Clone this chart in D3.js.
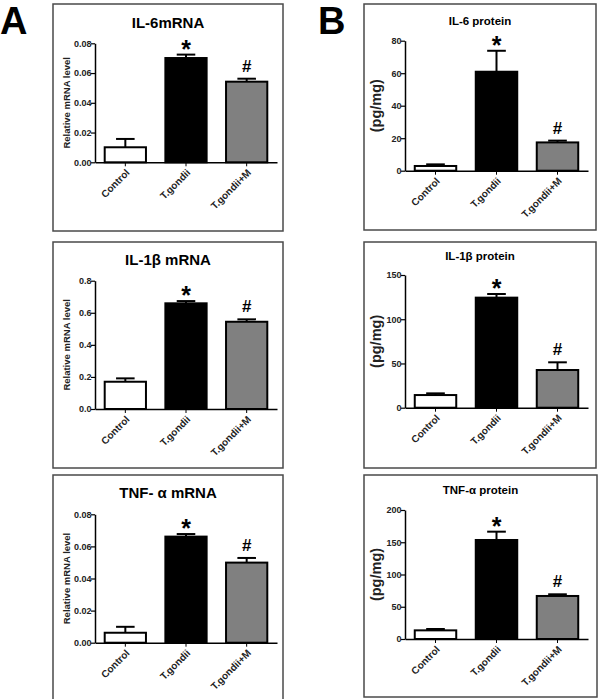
<!DOCTYPE html>
<html>
<head>
<meta charset="utf-8">
<script src="https://cdn.jsdelivr.net/npm/d3@7"></script>
<style>
  body { margin: 0; background: #fff; }
  svg { display: block; font-family: "Liberation Sans", Arial, Helvetica, sans-serif; }
</style>
</head>
<body>
<svg id="chart" width="600" height="699"></svg>
<script>
// data
const categories = ["Control", "T.gondii", "T.gondii+M"];
const markers = ["", "*", "#"];

const il6Mrna = [0.0101, 0.0701, 0.0542];
const il6MrnaErr = [0.0056, 0.0023, 0.0020];
const il1bMrna = [0.170, 0.659, 0.544];
const il1bMrnaErr = [0.021, 0.014, 0.015];
const tnfMrna = [0.0062, 0.0661, 0.0499];
const tnfMrnaErr = [0.0037, 0.0016, 0.0029];

const il6Protein = [2.9, 60.9, 17.4];
const il6ProteinErr = [1.0, 12.9, 1.1];
const il1bProtein = [14.3, 124.4, 42.6];
const il1bProteinErr = [1.9, 4.1, 8.7];
const tnfProtein = [13.4, 153.5, 66.7];
const tnfProteinErr = [2.1, 12.9, 2.6];

const mrnaTicks = [0, 0.02, 0.04, 0.06, 0.08];
const il1bMrnaTicks = [0, 0.2, 0.4, 0.6, 0.8];
const il6ProteinTicks = [0, 20, 40, 60, 80];
const il1bProteinTicks = [0, 50, 100, 150];
const tnfProteinTicks = [0, 50, 100, 150, 200];

const barColors = ["#ffffff", "#000000", "#808080"];

// panel layout
let panels = [
  {title: "IL-6mRNA", values: il6Mrna, errs: il6MrnaErr, ticks: mrnaTicks, fmt: ".2f",
   box: [53, 4, 230, 227], titleY: 28, titleSize: 15, ylab: "Relative mRNA level", ylabSize: 9.5, ylabX: 70,
   xr: [95, 277], yr: [162.3, 43.3]},
  {title: "IL-1\u03b2 mRNA", values: il1bMrna, errs: il1bMrnaErr, ticks: il1bMrnaTicks, fmt: ".1f",
   box: [53, 242, 230, 226], titleY: 265, titleSize: 15, ylab: "Relative mRNA level", ylabSize: 9.5, ylabX: 70,
   xr: [95, 277], yr: [409, 280.7]},
  {title: "TNF- \u03b1 mRNA", values: tnfMrna, errs: tnfMrnaErr, ticks: mrnaTicks, fmt: ".2f",
   box: [53, 475, 230, 240], titleY: 498, titleSize: 15, ylab: "Relative mRNA level", ylabSize: 9.5, ylabX: 70,
   xr: [95, 277], yr: [642.7, 514.3]},
  {title: "IL-6 protein", values: il6Protein, errs: il6ProteinErr, ticks: il6ProteinTicks, fmt: "d",
   box: [364, 4, 232, 226], titleY: 25, titleSize: 11.5, ylab: "(pg/mg)", ylabSize: 14.5, ylabX: 381,
   xr: [405, 588], yr: [170.7, 40.7]},
  {title: "IL-1\u03b2 protein", values: il1bProtein, errs: il1bProteinErr, ticks: il1bProteinTicks, fmt: "d",
   box: [364, 242, 232, 226], titleY: 260, titleSize: 11.5, ylab: "(pg/mg)", ylabSize: 14.5, ylabX: 381,
   xr: [405, 588], yr: [407.7, 275]},
  {title: "TNF-\u03b1 protein", values: tnfProtein, errs: tnfProteinErr, ticks: tnfProteinTicks, fmt: "d",
   box: [364, 475, 233, 222], titleY: 494, titleSize: 11.5, ylab: "(pg/mg)", ylabSize: 14.5, ylabX: 381,
   xr: [405, 588], yr: [639, 510]}
];

let svg = d3.select("#chart");

// panel letters
svg.append("text").attr("x", 0).attr("y", 34).attr("font-size", 38).attr("font-weight", "bold").text("A");
svg.append("text").attr("x", 318).attr("y", 34).attr("font-size", 38).attr("font-weight", "bold").text("B");

panels.forEach(function(p) {
  let g = svg.append("g");
  let data = categories.map(function(c, i) {
    return {name: c, value: p.values[i], err: p.errs[i], color: barColors[i], mark: markers[i]};
  });

  // frame
  g.append("rect")
    .attr("x", p.box[0]).attr("y", p.box[1])
    .attr("width", p.box[2]).attr("height", p.box[3])
    .attr("fill", "none").attr("stroke", "#4a4a4a").attr("stroke-width", 1.5);

  // title
  g.append("text")
    .attr("x", p.box[0] + p.box[2] / 2).attr("y", p.titleY)
    .attr("text-anchor", "middle")
    .attr("font-size", p.titleSize).attr("font-weight", "bold")
    .text(p.title);

  let x = d3.scaleBand()
    .domain(categories)
    .range(p.xr)
    .paddingInner(0.32).paddingOuter(0.16);

  let y = d3.scaleLinear()
    .domain([0, d3.max(p.ticks)])
    .range(p.yr);

  // bars
  g.selectAll("rect.bar")
    .data(data).enter()
    .append("rect")
      .attr("class", "bar")
      .attr("x", function(d) { return x(d.name); })
      .attr("y", function(d) { return y(d.value); })
      .attr("width", x.bandwidth())
      .attr("height", function(d) { return y(0) - y(d.value); })
      .attr("fill", function(d) { return d.color; })
      .attr("stroke", "#000").attr("stroke-width", 2);

  // error bars (upper only)
  let cap = x.bandwidth() * 0.45;
  g.selectAll("line.err")
    .data(data).enter()
    .append("line")
      .attr("x1", function(d) { return x(d.name) + x.bandwidth() / 2; })
      .attr("x2", function(d) { return x(d.name) + x.bandwidth() / 2; })
      .attr("y1", function(d) { return y(d.value); })
      .attr("y2", function(d) { return y(d.value + d.err); })
      .attr("stroke", "#000").attr("stroke-width", 2);
  g.selectAll("line.cap")
    .data(data).enter()
    .append("line")
      .attr("x1", function(d) { return x(d.name) + x.bandwidth() / 2 - cap / 2; })
      .attr("x2", function(d) { return x(d.name) + x.bandwidth() / 2 + cap / 2; })
      .attr("y1", function(d) { return y(d.value + d.err); })
      .attr("y2", function(d) { return y(d.value + d.err); })
      .attr("stroke", "#000").attr("stroke-width", 2);

  // significance marks
  g.selectAll("text.mark")
    .data(data.filter(function(d) { return d.mark != ""; })).enter()
    .append("text")
      .attr("x", function(d) { return x(d.name) + x.bandwidth() / 2; })
      .attr("y", function(d) { return y(d.value + d.err) + (d.mark == "*" ? 3 : -7); })
      .attr("text-anchor", "middle")
      .attr("font-weight", "bold")
      .attr("font-size", function(d) { return d.mark == "*" ? 25 : 17; })
      .text(function(d) { return d.mark; });

  // y axis
  let yAxis = g.append("g")
    .attr("transform", "translate(" + p.xr[0] + ",0)")
    .call(d3.axisLeft(y).tickValues(p.ticks).tickFormat(d3.format(p.fmt)).tickSize(4).tickSizeOuter(0));
  yAxis.select(".domain").attr("stroke-width", 1.5);
  yAxis.selectAll(".tick line").attr("stroke-width", 1.2);
  yAxis.selectAll("text").attr("font-size", 9).attr("font-weight", "bold").attr("fill", "#222")
    .attr("font-family", "Liberation Sans, Arial, sans-serif").attr("x", -3.5);

  // x axis
  let xAxis = g.append("g")
    .attr("transform", "translate(0," + p.yr[0] + ")")
    .call(d3.axisBottom(x).tickSize(4).tickSizeOuter(0));
  xAxis.select(".domain").attr("stroke-width", 1.5);
  xAxis.selectAll(".tick line").attr("stroke-width", 1);
  xAxis.selectAll("text")
    .attr("font-size", 10).attr("font-weight", "bold").attr("fill", "#222")
    .attr("font-family", "Liberation Sans, Arial, sans-serif")
    .attr("text-anchor", "end")
    .attr("y", 0).attr("dy", 0)
    .attr("transform", "translate(5,11) rotate(-45)");

  // y axis label
  g.append("text")
    .attr("transform", "translate(" + p.ylabX + "," + ((p.yr[0] + p.yr[1]) / 2) + ") rotate(-90)")
    .attr("text-anchor", "middle")
    .attr("font-size", p.ylabSize).attr("font-weight", "bold")
    .attr("fill", "#222")
    .text(p.ylab);
});
</script>
</body>
</html>
